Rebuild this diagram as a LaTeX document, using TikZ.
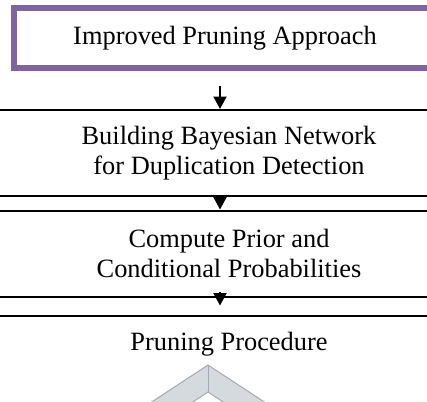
\documentclass[tikz,border=0pt]{standalone}
\usepackage{fontspec}
\setmainfont{Liberation Serif}
\usetikzlibrary{positioning, arrows.meta}
\definecolor{approachviolet}{HTML}{8064A2}
\definecolor{chevfill}{HTML}{D5DADF}
\definecolor{chevline}{HTML}{A3AAB2}

\begin{document}
\begin{tikzpicture}[x=1pt, y=1pt,
  box/.style={draw, line width=2pt, minimum width=478pt, inner sep=0pt, align=center, font=\fontsize{26.4}{29.5}\selectfont},
  topbox/.style={box, draw=approachviolet, line width=6pt, minimum width=422pt, minimum height=60pt},
  arr/.style={-{Triangle[length=12.5pt, width=13pt]}, line width=2pt}
]
\useasboundingbox (0,0) rectangle (427,-401);
\clip (0,0) rectangle (427,-401);
\node (ipa) [topbox] at (225,-38.5) {Improved Pruning Approach};
\node (bbn) [box, minimum height=86pt, below=37.5pt of ipa, xshift=4pt] {Building Bayesian Network\\for Duplication Detection};
\node (cpc) [box, minimum height=86pt, below=12.5pt of bbn] {Compute Prior and\\Conditional Probabilities};
\node (pp) [box, below=17pt of cpc, text height=35pt, text depth=100pt] {Pruning Procedure};
\draw[arr] ([xshift=-5pt, yshift=-14pt]ipa.south) -- ([xshift=-9pt]bbn.north);
\draw[arr] ([xshift=-9pt]bbn.south) -- ([xshift=-9pt]cpc.north);
\draw[arr] ([xshift=-9pt, yshift=6pt]cpc.south) -- ([xshift=-9pt, yshift=9pt]pp.north);
\filldraw[fill=chevfill, draw=chevline, line width=1pt] (109,-430) -- (208,-365) -- (307,-430) -- (266,-430) -- (208,-392) -- (150,-430) -- cycle;
\draw[chevline, line width=1pt] (208,-365) -- (208,-392);
\end{tikzpicture}
\end{document}
